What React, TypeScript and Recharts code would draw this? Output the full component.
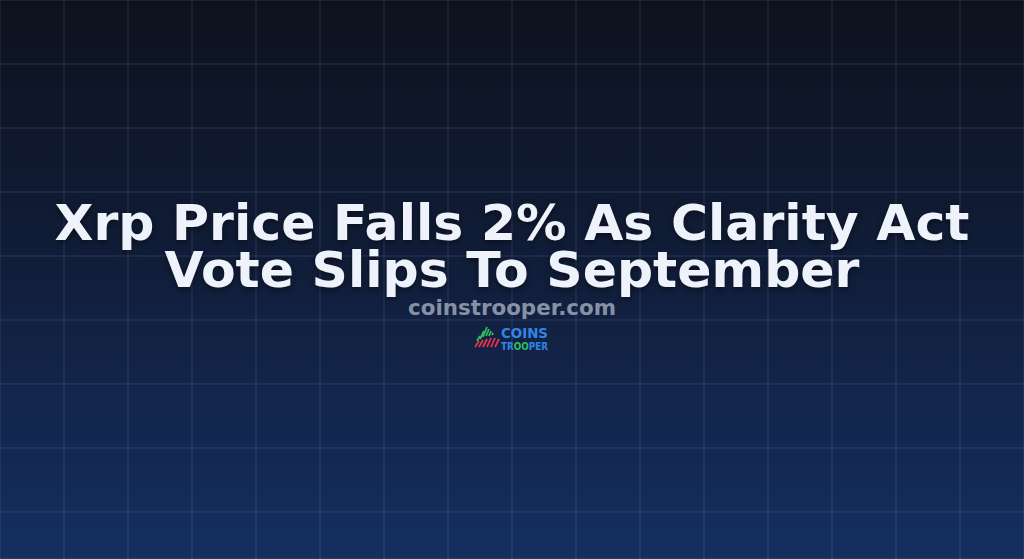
import { ComposedChart, XAxis, YAxis, CartesianGrid } from "recharts"

// Headline card: no series, only the grid and the text
const titleLines = ["Xrp Price Falls 2% As Clarity Act", "Vote Slips To September"]
const siteName = "coinstrooper.com"
const logoWords = ["COINS", "TR", "OO", "PER"]
const gridX = [0, 64, 128, 192, 256, 320, 384, 448, 512, 576, 640, 704, 768, 832, 896, 960, 1024]
const gridY = [0, 64, 128, 192, 256, 320, 384, 448, 512, 576]
const frame = [
  { x: 0, y: 0 },
  { x: 1024, y: 559 },
]

const W = 1024
const H = 559

// logo glyph: slanted bars, green ones form a peak, red ones run along the bottom
const greenBars = [
  [477, 341, 480, 336],
  [480, 339, 484, 331],
  [483, 337, 487, 327],
  [486, 336, 489, 329],
  [489, 336, 491, 331],
  [492, 335, 493, 333],
]
const redBars = [
  [475, 347, 479, 341],
  [479, 347, 483, 340],
  [483, 347, 487, 339],
  [487, 347, 491, 338],
  [491, 347, 495, 338],
  [495, 347, 499, 339],
]

function Logo() {
  return (
    <g>
      {greenBars.map((b, i) => (
        <line key={"g" + i} x1={b[0]} y1={b[1]} x2={b[2]} y2={b[3]} stroke="#2fbf5a" strokeWidth={1.8} />
      ))}
      {redBars.map((b, i) => (
        <line key={"r" + i} x1={b[0]} y1={b[1]} x2={b[2]} y2={b[3]} stroke="#e8334a" strokeWidth={1.8} />
      ))}
      <text
        x={501}
        y={337.5}
        fill="#2f86e6"
        fontSize={14.5}
        fontWeight="bold"
        fontFamily="DejaVu Sans"
        textLength={47}
        lengthAdjust="spacingAndGlyphs"
      >
        {logoWords[0]}
      </text>
      <text
        x={501}
        y={349.5}
        fontSize={10}
        fontWeight="bold"
        fontFamily="DejaVu Sans"
        fill="#2f86e6"
        textLength={47}
        lengthAdjust="spacingAndGlyphs"
      >
        {logoWords[1]}
        <tspan fill="#2fbf5a">{logoWords[2]}</tspan>
        {logoWords[3]}
      </text>
    </g>
  )
}

export default function App() {
  return (
    <div
      style={{
        position: "absolute",
        left: 0,
        top: 0,
        width: W,
        height: H,
        background: "linear-gradient(180deg, #0d121d 0%, #111d38 45%, #142f60 100%)",
        overflow: "hidden",
      }}
    >
      <ComposedChart width={W} height={H} data={frame} margin={{ top: 0, right: 0, bottom: 0, left: 0 }}>
        <XAxis dataKey="x" type="number" domain={[0, W]} ticks={gridX} hide />
        <YAxis dataKey="y" type="number" domain={[0, H]} ticks={gridY} reversed hide />
        <CartesianGrid stroke="rgba(140,165,210,0.2)" strokeWidth={1} />
        {/* headline block: one text element, lines as tspans */}
        <text textAnchor="middle" fontWeight="bold" fontFamily="DejaVu Sans">
          <tspan
            x={W / 2}
            y={240}
            fill="#eef2fb"
            fontSize={50.5}
            style={{ filter: "drop-shadow(0 2px 3px rgba(0,0,0,0.5))" }}
          >
            {titleLines[0]}
          </tspan>
          <tspan
            x={W / 2}
            y={287}
            fill="#eef2fb"
            fontSize={50.5}
            style={{ filter: "drop-shadow(0 2px 3px rgba(0,0,0,0.5))" }}
          >
            {titleLines[1]}
          </tspan>
          <tspan x={W / 2} y={315} fill="#8791a6" fontSize={21.4}>
            {siteName}
          </tspan>
        </text>
        <Logo />
      </ComposedChart>
    </div>
  )
}
